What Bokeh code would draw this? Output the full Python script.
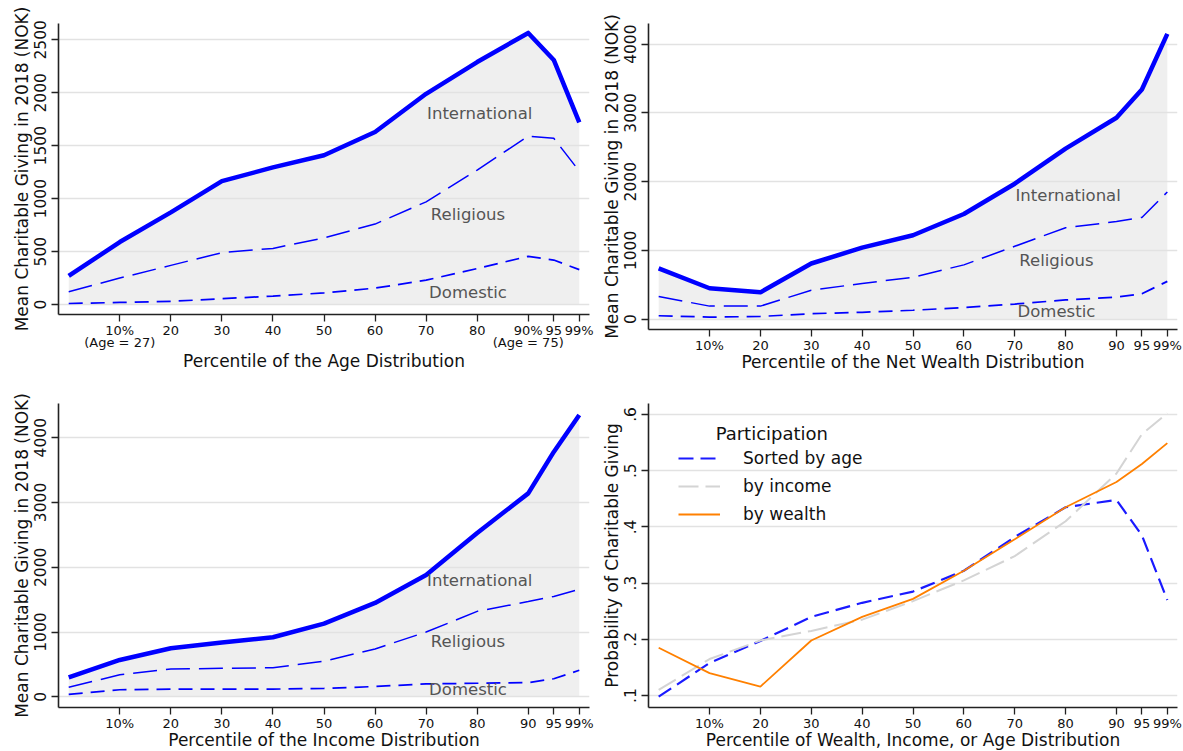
from bokeh.plotting import figure
from bokeh.layouts import column, row
from bokeh.models import FixedTicker, Range1d, Legend, LegendItem, Label, LinearAxis
from bokeh.embed import file_html
from bokeh.resources import INLINE
from bokeh.core.properties import value

# ---------------- data ----------------
x_pos = [0, 10, 20, 30, 40, 50, 60, 70, 80, 90, 95, 100]
tick_pos = [10, 20, 30, 40, 50, 60, 70, 80, 90, 95, 100]
tick_labels = ["10%", "20", "30", "40", "50", "60", "70", "80", "90", "95", "99%"]
tick_labels_age = ["10%", "20", "30", "40", "50", "60", "70", "80", "90%", "95", "99%"]
age_note_pos = [10, 90]
age_note_labels = ["(Age = 27)", "(Age = 75)"]

age_intl = [270, 590, 870, 1165, 1295, 1410, 1630, 1990, 2290, 2565, 2310, 1720]
age_relig = [120, 250, 370, 490, 530, 630, 760, 970, 1270, 1590, 1570, 1260]
age_dom = [10, 20, 30, 55, 80, 110, 155, 230, 340, 455, 420, 330]

wealth_intl = [740, 450, 390, 810, 1040, 1220, 1530, 1970, 2480, 2930, 3340, 4150]
wealth_relig = [330, 190, 190, 420, 520, 610, 790, 1060, 1330, 1420, 1480, 1850]
wealth_dom = [50, 30, 40, 80, 100, 130, 170, 220, 280, 320, 370, 550]

income_intl = [300, 570, 750, 840, 920, 1130, 1450, 1880, 2530, 3140, 3780, 4350]
income_relig = [150, 340, 430, 440, 450, 550, 740, 1000, 1320, 1470, 1550, 1660]
income_dom = [40, 110, 120, 120, 120, 130, 160, 200, 210, 220, 280, 410]

part_age = [0.098, 0.158, 0.197, 0.240, 0.265, 0.285, 0.322, 0.382, 0.435, 0.448, 0.385, 0.270]
part_income = [0.110, 0.165, 0.198, 0.215, 0.235, 0.268, 0.305, 0.348, 0.410, 0.495, 0.565, 0.602]
part_wealth = [0.185, 0.140, 0.116, 0.198, 0.240, 0.272, 0.322, 0.378, 0.435, 0.480, 0.512, 0.549]

series_names = ["International", "Religious", "Domestic"]
legend_names = ["Sorted by age", "by income", "by wealth"]

FONT = "DejaVu Sans"
BLUE = "#0000ff"


def style_axis(ax, size):
    ax.axis_line_color = "#222222"
    ax.axis_line_width = 1.6
    ax.major_tick_line_color = "#222222"
    ax.major_tick_line_width = 1.3
    ax.major_tick_out = 7
    ax.major_tick_in = 0
    ax.minor_tick_line_color = None
    ax.major_label_text_font = FONT
    ax.major_label_text_font_size = size
    ax.major_label_text_color = "#111111"
    ax.axis_label_text_font = FONT
    ax.axis_label_text_font_size = "17px"
    ax.axis_label_text_font_style = "normal"
    ax.axis_label_text_color = "#111111"


def base_fig(ylo, yhi, fw, fh, bl, br, bt, bb, yticks, ylabels, xlabels,
             xtitle, ytitle, xstand, age_note=False):
    p = figure(frame_width=fw, frame_height=fh,
               x_range=Range1d(-2, 102), y_range=Range1d(ylo, yhi),
               output_backend="svg", toolbar_location=None,
               min_border_left=bl, min_border_right=br,
               min_border_top=bt, min_border_bottom=bb)
    p.outline_line_color = None
    p.background_fill_color = "white"
    p.border_fill_color = "white"
    p.xgrid.visible = False
    p.ygrid.grid_line_color = "#e2e2e2"
    p.ygrid.grid_line_width = 1.3
    p.ygrid.ticker = FixedTicker(ticks=yticks)

    xa = p.xaxis[0]
    ya = p.yaxis[0]
    style_axis(xa, "13px")
    style_axis(ya, "15.5px")
    xa.ticker = FixedTicker(ticks=tick_pos)
    xa.major_label_overrides = {t: l for t, l in zip(tick_pos, xlabels)}
    xa.major_label_standoff = 1
    ya.ticker = FixedTicker(ticks=yticks)
    ya.major_label_overrides = {t: l for t, l in zip(yticks, ylabels)}
    ya.major_label_orientation = "vertical"
    ya.major_label_standoff = 5
    ya.axis_label = ytitle
    ya.axis_label_standoff = 0
    if age_note:
        ax2 = LinearAxis(ticker=FixedTicker(ticks=age_note_pos),
                         major_label_overrides={t: l for t, l in zip(age_note_pos, age_note_labels)})
        style_axis(ax2, "13px")
        ax2.axis_line_color = None
        ax2.major_tick_line_color = None
        ax2.major_tick_out = 0
        ax2.major_label_standoff = -6
        ax2.axis_label = xtitle
        ax2.axis_label_standoff = xstand
        p.add_layout(ax2, "below")
    else:
        xa.axis_label = xtitle
        xa.axis_label_standoff = xstand
    return p


def giving_panel(intl, relig, dom, ylo, yhi, yticks, fw, fh, bl, br, bt, bb,
                 xlabels, xtitle, xstand, age_note=False):
    p = base_fig(ylo, yhi, fw, fh, bl, br, bt, bb, yticks,
                 [str(t) for t in yticks], xlabels, xtitle,
                 "Mean Charitable Giving in 2018 (NOK)", xstand, age_note)
    p.varea(x=x_pos, y1=[0] * len(x_pos), y2=intl, fill_color="#efefef",
            level="image")
    p.line(x_pos, intl, line_color=BLUE, line_width=4.5, line_join="round")
    p.line(x_pos, relig, line_color=BLUE, line_width=1.5, line_dash="24 9")
    p.line(x_pos, dom, line_color=BLUE, line_width=1.7, line_dash="14 8")
    p.text(x=[80.5, 78.2, 78.2], y=[1800, 850, 112], text=series_names,
           text_font=value(FONT), text_font_size="16.5px", text_color="#555555",
           text_align="center", text_baseline="middle")
    return p


# row 1
tl = giving_panel(age_intl, age_relig, age_dom, -94, 2654,
                  [0, 500, 1000, 1500, 2000, 2500],
                  531, 291, 58, 9, 23, 66, tick_labels_age,
                  "Percentile of the Age Distribution", -2, age_note=True)
tr = giving_panel(wealth_intl, wealth_relig, wealth_dom, -150, 4300,
                  [0, 1000, 2000, 3000, 4000],
                  529, 306, 50, 6, 23, 51, tick_labels,
                  "Percentile of the Net Wealth Distribution", -4)
# row 2
bl = giving_panel(income_intl, income_relig, income_dom, -164, 4527,
                  [0, 1000, 2000, 3000, 4000],
                  531, 304, 58, 9, 23, 40, tick_labels,
                  "Percentile of the Income Distribution", -4)

br = base_fig(0.0788, 0.6195, 529, 304, 50, 6, 23, 40,
              [0.1, 0.2, 0.3, 0.4, 0.5, 0.6],
              [".1", ".2", ".3", ".4", ".5", ".6"], tick_labels,
              "Percentile of Wealth, Income, or Age Distribution",
              "Probability of Charitable Giving", -4)
r_age = br.line(x_pos, part_age, line_color="#1a1aff", line_width=2.2,
                line_dash="15 7")
r_inc = br.line(x_pos, part_income, line_color="#d4d4d4", line_width=2,
                line_dash="20 7")
r_wea = br.line(x_pos, part_wealth, line_color="#ff8000", line_width=1.8)
legend = Legend(items=[LegendItem(label=legend_names[0], renderers=[r_age]),
                       LegendItem(label=legend_names[1], renderers=[r_inc]),
                       LegendItem(label=legend_names[2], renderers=[r_wea])],
                location=(30, 183), orientation="vertical",
                border_line_color=None, background_fill_alpha=0,
                padding=0, margin=0, spacing=8,
                glyph_width=42, glyph_height=20, label_height=20,
                label_standoff=23,
                label_text_font=FONT, label_text_font_size="17px",
                label_text_color="#111111")
br.add_layout(legend, "center")
br.add_layout(Label(x=11.2, y=0.567, text="Participation", text_font=FONT,
                    text_font_size="18px", text_color="#111111",
                    text_baseline="middle", text_align="left"))

layout = column(row(tl, tr), row(bl, br))
open("out.html", "w").write(file_html(layout, INLINE))
